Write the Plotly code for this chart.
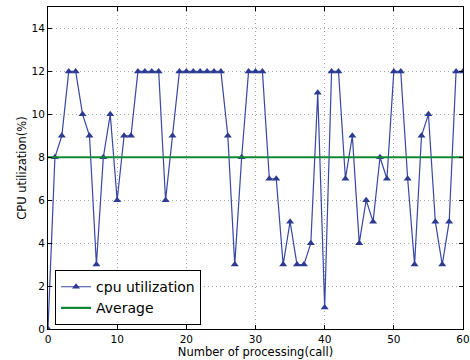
import plotly.graph_objects as go

calls = list(range(0, 61))
cpu_util = [0, 8, 9, 12, 12, 10, 9, 3, 8, 10,
            6, 9, 9, 12, 12, 12, 12, 6, 9, 12,
            12, 12, 12, 12, 12, 12, 9, 3, 8, 12,
            12, 12, 7, 7, 3, 5, 3, 3, 4, 11,
            1, 12, 12, 7, 9, 4, 6, 5, 8, 7,
            12, 12, 7, 3, 9, 10, 5, 3, 5, 12,
            12]
average_value = 8
x_ticks = [0, 10, 20, 30, 40, 50, 60]
y_ticks = [0, 2, 4, 6, 8, 10, 12, 14]

fig = go.Figure()
fig.add_trace(go.Scatter(
    x=calls, y=cpu_util, mode="lines+markers", name="cpu utilization",
    line=dict(color="#3847a3", width=1.2),
    marker=dict(symbol="triangle-up", size=7, color="#2c3a92"),
    cliponaxis=True,
))
fig.add_trace(go.Scatter(
    x=[calls[0], calls[-1]], y=[average_value, average_value], mode="lines",
    name="Average", line=dict(color="#118833", width=2.2),
))

axis_common = dict(
    showline=True, linecolor="black", linewidth=1, mirror="ticks",
    showgrid=True, gridcolor="#a8a8a8", griddash="1px,3px", gridwidth=1,
    zeroline=False, ticks="inside", ticklen=4, tickcolor="black",
    tickfont=dict(family="DejaVu Sans", size=10.5, color="black"),
    automargin=False,
)
fig.update_xaxes(range=[0, 60], tickvals=x_ticks,
                 title=dict(text="Number of processing(call)", standoff=2,
                            font=dict(family="DejaVu Sans", size=11.5, color="black")),
                 **axis_common)
fig.update_yaxes(range=[0, 15], tickvals=y_ticks,
                 title=dict(text="CPU utilization(%)", standoff=2,
                            font=dict(family="DejaVu Sans", size=11.5, color="black")),
                 **axis_common)
fig.update_layout(
    width=470, height=360,
    margin=dict(l=48, r=7, t=7, b=31),
    plot_bgcolor="white", paper_bgcolor="white",
    font=dict(family="DejaVu Sans"),
    legend=dict(x=0.017, y=0.012, xanchor="left", yanchor="bottom",
                bordercolor="black", borderwidth=1, bgcolor="white",
                font=dict(size=14, color="black"), tracegroupgap=0,
                itemwidth=30),
    showlegend=True,
)
fig.write_html("out.html", config={"displayModeBar": False},
               post_script="document.body.style.margin='0';document.body.style.padding='0';")
